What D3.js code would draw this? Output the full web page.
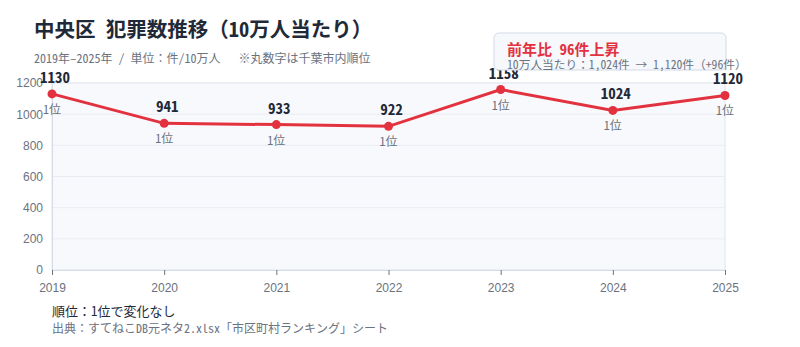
<!DOCTYPE html>
<html>
<head>
<meta charset="utf-8">
<script src="https://cdn.jsdelivr.net/npm/d3@7"></script>
<style>
	body { margin: 0; background: #fff; }
	svg { display: block; font-family: "Noto Sans Mono CJK JP", "Noto Sans CJK JP", monospace; }
</style>
</head>
<body>
<svg id="chart" width="800" height="347"></svg>
<script>
(function() {

//DATA

	var years = ["2019","2020","2021","2022","2023","2024","2025"];
	var values = [1130, 941, 933, 922, 1158, 1024, 1120];
	var ranks = ["1位","1位","1位","1位","1位","1位","1位"];
	var yTicks = [0, 200, 400, 600, 800, 1000, 1200];

	var titleText = "中央区 犯罪数推移（10万人当たり）";
	var subText = "2019年–2025年 / 単位：件/10万人   ※丸数字は千葉市内順位";
	var noteTitle = "前年比 96件上昇";
	var noteSub = "10万人当たり：1,024件 → 1,120件（+96件）";
	var rankNote = "順位：1位で変化なし";
	var sourceNote = "出典：すてねこDB元ネタ2.xlsx「市区町村ランキング」シート";

//VARS

	var red = "#e2323f";
	var dark = "#1f2937";
	var gray = "#6b7280";
	var margin = {left: 52, right: 75, top: 83, bottom: 77};
	var width = 800, height = 347;

	var svg = d3.select('#chart');

	var x = d3.scalePoint()
		.domain(years)
		.range([margin.left, width - margin.right]);
	var y = d3.scaleLinear()
		.domain([0, 1200])
		.range([height - margin.bottom, margin.top]);

	// plot background
	svg.append('rect')
		.attr('x', x.range()[0])
		.attr('y', y(1200))
		.attr('width', x.range()[1] - x.range()[0])
		.attr('height', y(0) - y(1200))
		.attr('fill', '#f8f9fc')
		.attr('stroke', '#dfe4ee');

	// grid
	svg.append('g')
		.selectAll('line')
		.data(yTicks)
		.enter().append('line')
		.attr('x1', x.range()[0])
		.attr('x2', x.range()[1])
		.attr('y1', function(d) { return y(d); })
		.attr('y2', function(d) { return y(d); })
		.attr('stroke', '#e9ecf3');

	// y axis
	var yaxis = svg.append('g')
		.attr('transform', 'translate(' + margin.left + ',0)')
		.call(d3.axisLeft(y).tickValues(yTicks).tickFormat(d3.format('d')).tickSize(0).tickPadding(9));
	yaxis.select('.domain').attr('stroke', '#d6dce7');
	yaxis.selectAll('text')
		.attr('fill', gray)
		.style('font-family', 'inherit')
		.style('font-size', '12px');

	// x axis
	var xaxis = svg.append('g')
		.attr('transform', 'translate(0,' + y(0) + ')')
		.call(d3.axisBottom(x).tickSize(5).tickPadding(8));
	xaxis.select('.domain').attr('stroke', '#d6dce7');
	xaxis.selectAll('.tick line').attr('stroke', '#6b7280');
	xaxis.selectAll('text')
		.attr('fill', gray)
		.style('font-family', 'inherit')
		.style('font-size', '12px');

	// line
	var line = d3.line()
		.x(function(d, i) { return x(years[i]); })
		.y(function(d) { return y(d); });

	svg.append('path')
		.datum(values)
		.attr('d', line)
		.attr('fill', 'none')
		.attr('stroke', red)
		.attr('stroke-width', 3);

	svg.selectAll('.dot')
		.data(values)
		.enter().append('circle')
		.attr('class', 'dot')
		.attr('cx', function(d, i) { return x(years[i]); })
		.attr('cy', function(d) { return y(d); })
		.attr('r', 4.5)
		.attr('fill', red);

	svg.selectAll('.val')
		.data(values)
		.enter().append('text')
		.attr('class', 'val')
		.attr('x', function(d, i) { return x(years[i]) + 3; })
		.attr('y', function(d) { return y(d) - 11; })
		.attr('text-anchor', 'middle')
		.attr('fill', dark)
		.style('font-size', '15px')
		.style('font-weight', 'bold')
		.text(function(d) { return d; });

	svg.selectAll('.rank')
		.data(ranks)
		.enter().append('text')
		.attr('class', 'rank')
		.attr('x', function(d, i) { return x(years[i]); })
		.attr('y', function(d, i) { return y(values[i]) + 20; })
		.attr('text-anchor', 'middle')
		.attr('fill', gray)
		.style('font-size', '12px')
		.text(function(d) { return d; });

	// title
	svg.append('text')
		.attr('x', 34).attr('y', 37)
		.attr('fill', dark)
		.style('font-size', '20.5px')
		.style('font-weight', 'bold')
		.style('white-space', 'pre')
		.text(titleText);
	svg.append('text')
		.attr('x', 34).attr('y', 63)
		.attr('fill', gray)
		.style('font-size', '12px')
		.style('white-space', 'pre')
		.text(subText);

	// annotation box
	svg.append('rect')
		.attr('x', 494).attr('y', 33)
		.attr('width', 232).attr('height', 37)
		.attr('rx', 5)
		.attr('fill', '#f6f8fb')
		.attr('stroke', '#d3dae6');
	svg.append('text')
		.attr('x', 507).attr('y', 55)
		.attr('fill', red)
		.style('font-size', '15px')
		.style('font-weight', 'bold')
		.style('white-space', 'pre')
		.text(noteTitle);
	svg.append('text')
		.attr('x', 507).attr('y', 69)
		.attr('fill', gray)
		.style('font-size', '11.7px')
		.text(noteSub);

	// footer
	svg.append('text')
		.attr('x', 52).attr('y', 316)
		.attr('fill', dark)
		.style('font-size', '13px')
		.text(rankNote);
	svg.append('text')
		.attr('x', 52).attr('y', 333)
		.attr('fill', gray)
		.style('font-size', '12px')
		.text(sourceNote);

})()
</script>
</body>
</html>
